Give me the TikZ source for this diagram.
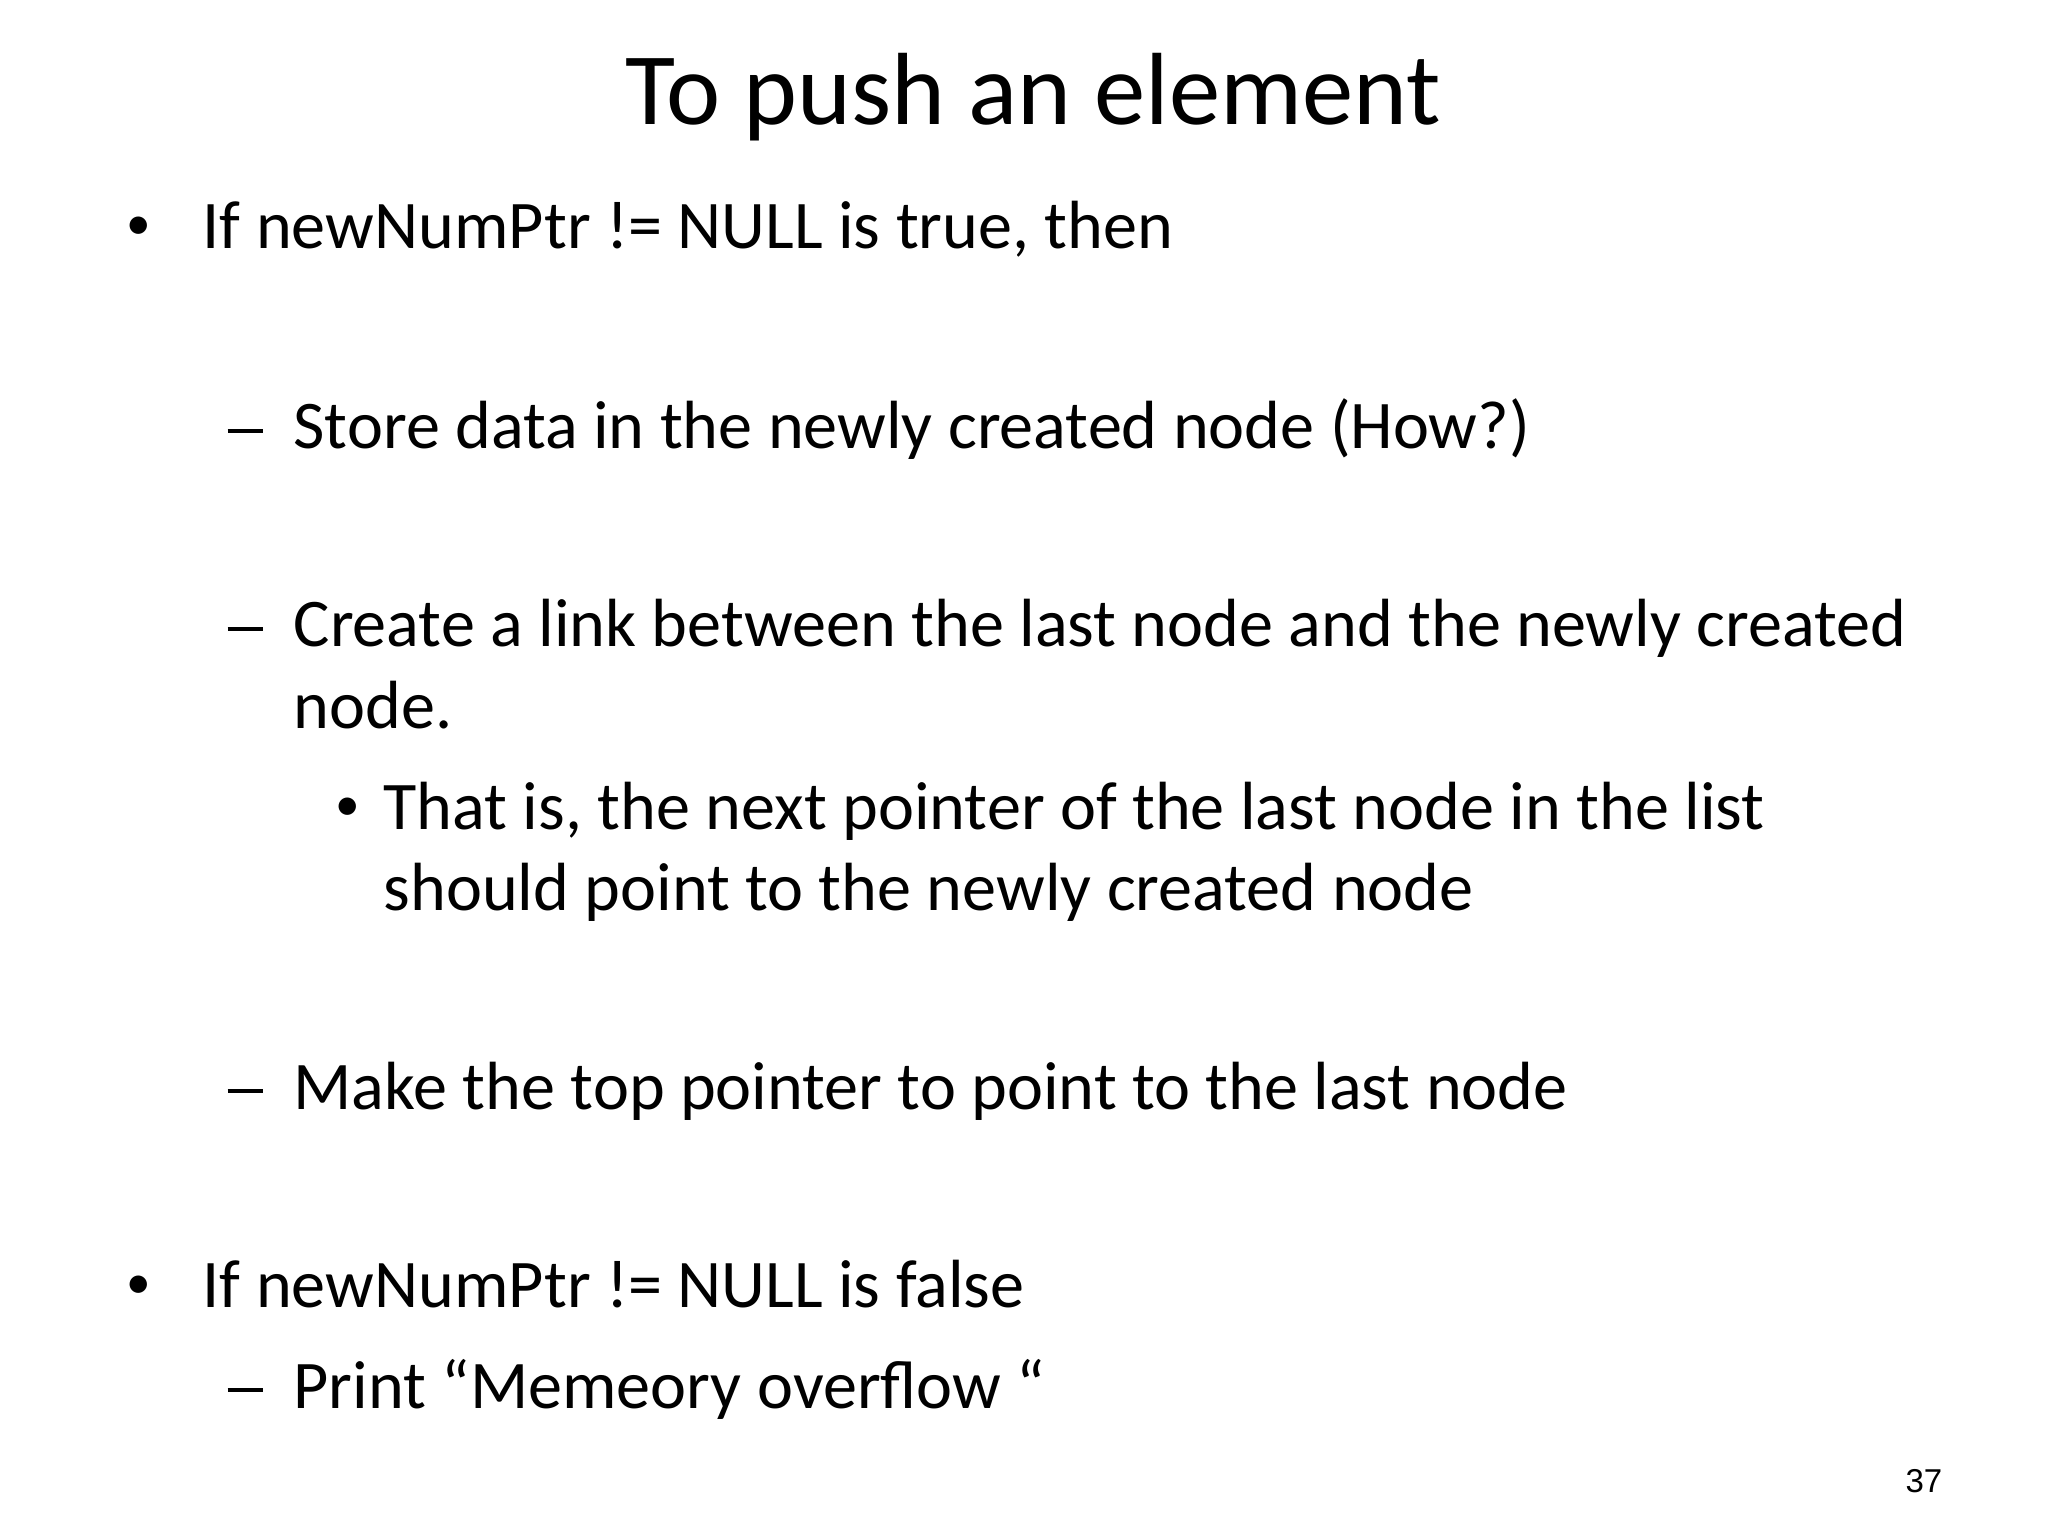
\documentclass[tikz,border=0pt]{standalone}
\usepackage{fontspec}
\setmainfont{Carlito}
\newfontfamily\numfont{Liberation Sans}
\begin{document}
\begin{tikzpicture}[x=1cm,y=1cm,
  body/.style={anchor=base west,inner sep=0pt,font=\fontsize{19.4}{23}\selectfont},
  bul/.style={anchor=base west,inner sep=0pt,font=\fontsize{14}{16}\selectfont},
  ttl/.style={anchor=base,inner sep=0pt,font=\fontsize{29.2}{35}\selectfont}]
\useasboundingbox[fill=white] (0,0) rectangle (20.48,-15.36);
\newcommand\mydash{\rule[0.24em]{0.52em}{0.06em}}
\node[ttl] (title) at (10.33,-1.25) {To push an element};
\node[bul] (b1) at (1.26,-2.40) {•};
\node[body] (t1) at (2.02,-2.49) {If newNumPtr != NULL is true, then};
\node[body] (d1) at (2.27,-4.49) {\mydash};
\node[body] (t2) at (2.93,-4.49) {Store data in the newly created node (How?)};
\node[body] (d2) at (2.27,-6.47) {\mydash};
\node[body] (t3) at (2.93,-6.47) {Create a link between the last node and the newly created};
\node[body] (t3b) at (2.93,-7.29) {node.};
\node[bul] (sb) at (3.35,-8.20) {•};
\node[body] (t4) at (3.83,-8.29) {That is, the next pointer of the last node in the list};
\node[body] (t4b) at (3.83,-9.11) {should point to the newly created node};
\node[body] (d3) at (2.27,-11.09) {\mydash};
\node[body] (t5) at (2.93,-11.09) {Make the top pointer to point to the last node};
\node[bul] (b2) at (1.26,-12.98) {•};
\node[body] (t6) at (2.02,-13.07) {If newNumPtr != NULL is false};
\node[body] (d4) at (2.27,-14.08) {\mydash};
\node[body] (t7) at (2.93,-14.08) {Print “Memeory overflow “};
\node[anchor=base east,inner sep=0pt,font=\numfont\fontsize{9.4}{11}\selectfont] (pg) at (19.43,-14.92) {37};
\end{tikzpicture}
\end{document}
